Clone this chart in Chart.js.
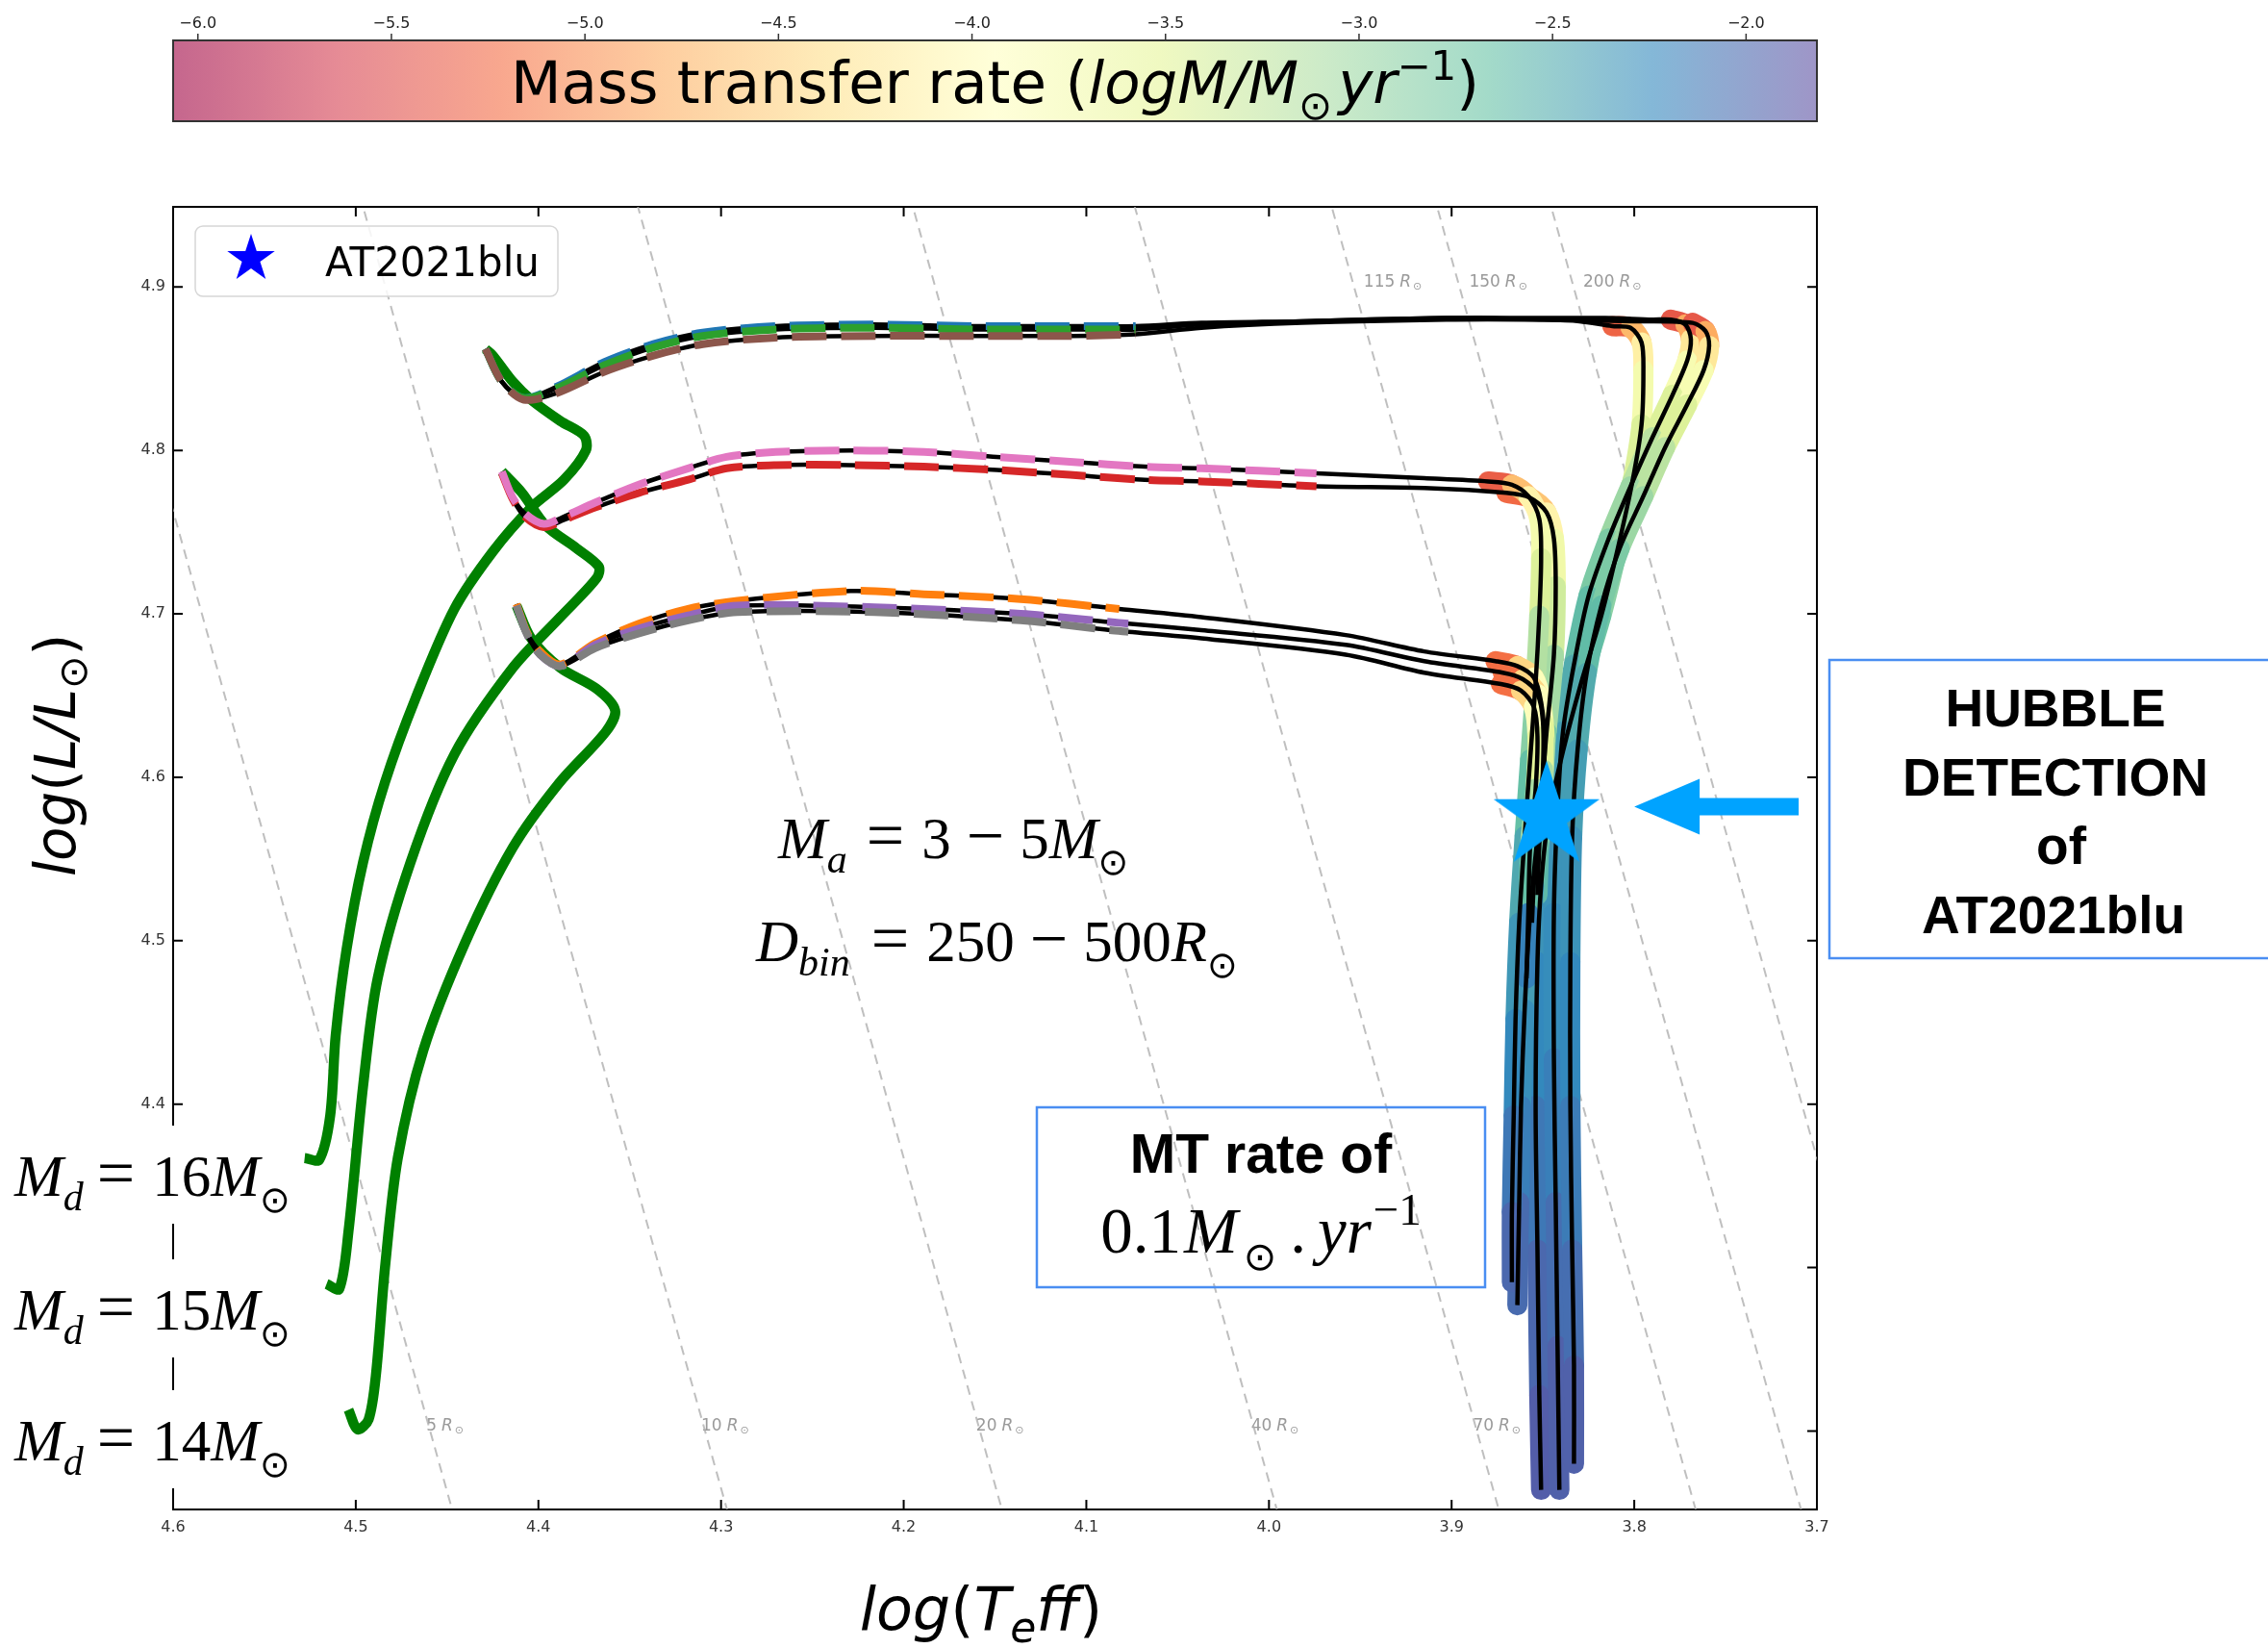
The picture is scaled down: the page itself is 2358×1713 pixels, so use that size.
<!DOCTYPE html>
<html lang="en">
<head>
<meta charset="UTF-8">
<title>HR diagram - AT2021blu mass transfer tracks</title>
<script src="https://cdn.jsdelivr.net/npm/chart.js"></script>
<style>
  html, body { margin: 0; padding: 0; background: #fff; }
  #hrd { display: block; }
</style>
</head>
<body>
<canvas id="hrd" width="2358" height="1713"></canvas>
<script>
// ---- axes ----
const xTicks = [4.6, 4.5, 4.4, 4.3, 4.2, 4.1, 4.0, 3.9, 3.8, 3.7];
const yTicks = [4.2, 4.3, 4.4, 4.5, 4.6, 4.7, 4.8, 4.9];
const cbTicks = [-6.0, -5.5, -5.0, -4.5, -4.0, -3.5, -3.0, -2.5, -2.0];
const cbRange = [-6.064, -1.817];
const spectral = ['#9e0142', '#d53e4f', '#f46d43', '#fdae61', '#fee08b', '#ffffbf',
                  '#e6f598', '#abdda4', '#66c2a5', '#3288bd', '#5e4fa2'];

// ---- constant radius lines (R in Rsun) ----
const radiusVals = [5, 10, 20, 40, 70, 115, 150, 200];
const radiusLabelL = [4.2, 4.2, 4.2, 4.2, 4.2, 4.9, 4.9, 4.9];
const radC = 15.035;

// ---- donor single-star tracks (green) ----
const ms16T = [4.528, 4.520, 4.514, 4.511, 4.505, 4.496, 4.484, 4.467, 4.446, 4.425, 4.404, 4.386, 4.374, 4.375, 4.388, 4.404, 4.414, 4.425, 4.429];
const ms16L = [4.367, 4.366, 4.393, 4.442, 4.495, 4.548, 4.597, 4.649, 4.703, 4.738, 4.765, 4.782, 4.800, 4.809, 4.818, 4.831, 4.842, 4.858, 4.862];
const ms15T = [4.516, 4.509, 4.504, 4.496, 4.488, 4.470, 4.446, 4.414, 4.388, 4.368, 4.367, 4.379, 4.396, 4.409, 4.420];
const ms15L = [4.290, 4.287, 4.322, 4.411, 4.477, 4.548, 4.614, 4.667, 4.698, 4.722, 4.729, 4.740, 4.754, 4.774, 4.787];
const ms14T = [4.504, 4.499, 4.493, 4.489, 4.484, 4.477, 4.463, 4.440, 4.414, 4.389, 4.363, 4.358, 4.368, 4.388, 4.404, 4.412];
const ms14L = [4.213, 4.201, 4.207, 4.234, 4.300, 4.367, 4.433, 4.499, 4.557, 4.596, 4.628, 4.641, 4.654, 4.667, 4.685, 4.705];

// ---- binary tracks: before mass transfer ----
const topBlueT  = [4.429, 4.420, 4.408, 4.390, 4.364, 4.337, 4.310, 4.270, 4.216, 4.162, 4.109, 4.073, 4.037, 3.982, 3.903, 3.852, 3.830, 3.812];
const topBlueL  = [4.862, 4.842, 4.832, 4.839, 4.854, 4.865, 4.872, 4.876, 4.877, 4.876, 4.876, 4.876, 4.878, 4.879, 4.881, 4.880, 4.879, 4.876];
const topGreenT = [4.429, 4.420, 4.408, 4.390, 4.364, 4.337, 4.310, 4.270, 4.216, 4.162, 4.109, 4.073, 4.037, 3.982, 3.903, 3.852, 3.816, 3.790, 3.780];
const topGreenL = [4.862, 4.842, 4.832, 4.838, 4.852, 4.863, 4.870, 4.874, 4.875, 4.874, 4.874, 4.874, 4.877, 4.879, 4.881, 4.881, 4.881, 4.880, 4.880];
const topBrownT = [4.429, 4.420, 4.408, 4.390, 4.364, 4.337, 4.310, 4.270, 4.216, 4.162, 4.109, 4.073, 4.037, 3.982, 3.903, 3.852, 3.800, 3.768];
const topBrownL = [4.862, 4.842, 4.831, 4.835, 4.848, 4.858, 4.865, 4.869, 4.870, 4.870, 4.870, 4.871, 4.875, 4.878, 4.880, 4.880, 4.879, 4.878];
const midPinkT  = [4.420, 4.414, 4.407, 4.397, 4.387, 4.369, 4.345, 4.318, 4.297, 4.270, 4.229, 4.189, 4.149, 4.109, 4.068, 4.037, 3.974, 3.915, 3.880];
const midPinkL  = [4.787, 4.771, 4.761, 4.755, 4.759, 4.768, 4.779, 4.789, 4.796, 4.799, 4.800, 4.799, 4.796, 4.793, 4.790, 4.789, 4.786, 4.783, 4.781];
const midRedT   = [4.420, 4.414, 4.407, 4.397, 4.387, 4.369, 4.345, 4.318, 4.297, 4.270, 4.229, 4.189, 4.149, 4.109, 4.068, 4.037, 3.974, 3.915, 3.870];
const midRedL   = [4.786, 4.770, 4.759, 4.753, 4.757, 4.765, 4.774, 4.782, 4.789, 4.791, 4.791, 4.790, 4.788, 4.785, 4.782, 4.781, 4.778, 4.777, 4.774];
const lowOrangeT = [4.412, 4.406, 4.399, 4.388, 4.369, 4.345, 4.318, 4.291, 4.229, 4.189, 4.136, 4.082, 4.037, 3.958, 3.915, 3.876];
const lowOrangeL = [4.706, 4.688, 4.677, 4.669, 4.682, 4.694, 4.703, 4.708, 4.714, 4.712, 4.709, 4.703, 4.698, 4.687, 4.677, 4.671];
const lowPurpleT = [4.412, 4.406, 4.399, 4.388, 4.369, 4.345, 4.318, 4.291, 4.216, 4.136, 4.087, 4.077, 4.037, 3.958, 3.915, 3.872];
const lowPurpleL = [4.705, 4.687, 4.675, 4.668, 4.681, 4.691, 4.699, 4.705, 4.704, 4.700, 4.695, 4.694, 4.690, 4.681, 4.671, 4.664];
const lowGrayT  = [4.412, 4.406, 4.399, 4.388, 4.369, 4.345, 4.318, 4.291, 4.216, 4.136, 4.087, 4.077, 4.037, 3.958, 3.915, 3.873];
const lowGrayL  = [4.705, 4.687, 4.675, 4.668, 4.679, 4.688, 4.696, 4.701, 4.701, 4.696, 4.690, 4.689, 4.685, 4.675, 4.664, 4.657];

// ---- binary tracks: mass transfer phase (logT, logL, log Mdot) ----
const topBlueMtT  = [3.812, 3.802, 3.796, 3.795, 3.796, 3.801, 3.809, 3.818, 3.829, 3.839, 3.847, 3.851, 3.853, 3.854, 3.853, 3.852, 3.851];
const topBlueMtL  = [4.876, 4.875, 4.866, 4.849, 4.816, 4.781, 4.740, 4.699, 4.658, 4.616, 4.575, 4.534, 4.487, 4.399, 4.311, 4.222, 4.164];
const topBlueMt   = [-5.6, -5.0, -4.4, -3.9, -3.6, -3.3, -3.0, -2.8, -2.65, -2.5, -2.4, -2.35, -2.3, -2.2, -2.05, -1.95, -1.9];
const topGreenMtT = [3.780, 3.772, 3.769, 3.771, 3.779, 3.790, 3.802, 3.814, 3.825, 3.833, 3.839, 3.842, 3.844, 3.844, 3.843, 3.842, 3.841];
const topGreenMtL = [4.880, 4.877, 4.868, 4.855, 4.834, 4.808, 4.778, 4.746, 4.711, 4.669, 4.628, 4.581, 4.517, 4.428, 4.340, 4.252, 4.164];
const topGreenMt  = [-5.7, -5.1, -4.5, -4.0, -3.6, -3.3, -3.1, -2.9, -2.7, -2.55, -2.45, -2.35, -2.3, -2.25, -2.1, -2.0, -1.9];
const topBrownMtT = [3.768, 3.761, 3.759, 3.762, 3.771, 3.783, 3.795, 3.808, 3.818, 3.826, 3.831, 3.834, 3.835, 3.835, 3.834, 3.833, 3.833];
const topBrownMtL = [4.878, 4.873, 4.864, 4.849, 4.828, 4.802, 4.772, 4.740, 4.705, 4.664, 4.617, 4.564, 4.487, 4.399, 4.311, 4.240, 4.180];
const topBrownMt  = [-5.7, -5.1, -4.5, -4.0, -3.6, -3.3, -3.1, -2.9, -2.7, -2.55, -2.45, -2.35, -2.3, -2.2, -2.1, -2.0, -1.9];
const midPinkMtT  = [3.880, 3.867, 3.858, 3.852, 3.851, 3.852, 3.854, 3.857, 3.860, 3.863, 3.865, 3.866, 3.867, 3.867];
const midPinkMtL  = [4.781, 4.779, 4.772, 4.758, 4.734, 4.699, 4.658, 4.611, 4.564, 4.511, 4.452, 4.393, 4.334, 4.291];
const midPinkMt   = [-5.7, -5.0, -4.3, -3.9, -3.6, -3.3, -3.0, -2.75, -2.55, -2.4, -2.3, -2.2, -2.05, -1.95];
const midRedMtT   = [3.870, 3.857, 3.848, 3.844, 3.843, 3.844, 3.848, 3.852, 3.857, 3.860, 3.862, 3.863, 3.864];
const midRedMtL   = [4.774, 4.771, 4.762, 4.746, 4.717, 4.675, 4.628, 4.575, 4.517, 4.458, 4.399, 4.340, 4.277];
const midRedMt    = [-5.6, -4.9, -4.3, -3.9, -3.5, -3.2, -2.9, -2.65, -2.45, -2.35, -2.25, -2.1, -1.95];
const lowOrangeMtT = [3.876, 3.864, 3.855, 3.851, 3.849, 3.850, 3.852, 3.853];
const lowOrangeMtL = [4.671, 4.668, 4.661, 4.646, 4.622, 4.593, 4.558, 4.528];
const lowOrangeMt  = [-5.6, -4.8, -4.1, -3.7, -3.3, -3.0, -2.7, -2.5];
const lowPurpleMtT = [3.872, 3.861, 3.853, 3.850, 3.850, 3.852, 3.855, 3.856];
const lowPurpleMtL = [4.664, 4.660, 4.651, 4.634, 4.605, 4.569, 4.534, 4.511];
const lowPurpleMt  = [-5.6, -4.8, -4.1, -3.7, -3.3, -2.9, -2.5, -2.1];
const lowGrayMtT  = [3.873, 3.862, 3.855, 3.853, 3.854, 3.857, 3.858, 3.859];
const lowGrayMtL  = [4.657, 4.653, 4.643, 4.625, 4.593, 4.558, 4.517, 4.477];
const lowGrayMt   = [-5.6, -4.8, -4.1, -3.7, -3.3, -2.9, -2.4, -2.0];

// ---- observed object ----
const at2021blu = [3.848, 4.576];
const arrowTip = [3.800, 4.582];
const arrowTail = [3.710, 4.582];

// ---------------------------------------------------------------
const rgbStops = spectral.map(h => { const n = parseInt(h.slice(1), 16); return [n >> 16, (n >> 8) & 255, n & 255]; });
function cmap(v, a) {
  let t = (v - cbRange[0]) / (cbRange[1] - cbRange[0]);
  t = Math.min(1, Math.max(0, t)) * (rgbStops.length - 1);
  const i = Math.min(Math.floor(t), rgbStops.length - 2), fr = t - i;
  const c = rgbStops[i].map((c0, k) => Math.round(c0 + (rgbStops[i + 1][k] - c0) * fr));
  return `rgba(${c[0]},${c[1]},${c[2]},${a})`;
}
const pts = (T, L) => T.map((t, i) => ({ x: t, y: L[i] }));
const radiusT = (R, L) => (L - 2 * Math.log10(R) + radC) / 4;

function starPath(ctx, cx, cy, R) {
  const r = R * 0.381966;
  ctx.beginPath();
  for (let k = 0; k < 10; k++) {
    const rad = k % 2 ? r : R, a = -Math.PI / 2 + k * Math.PI / 5;
    ctx.lineTo(cx + rad * Math.cos(a), cy + rad * Math.sin(a));
  }
  ctx.closePath();
}
const starImg = document.createElement('canvas');
starImg.width = 120; starImg.height = 120;
{ const c = starImg.getContext('2d'); starPath(c, 60, 60, 58); c.fillStyle = '#00a3ff'; c.fill(); }

// text made of runs: [text, font, dy] or a number (gap in px)
function drawRuns(ctx, x, y, parts, align) {
  let w = 0;
  parts.forEach(p => { if (typeof p === 'number') { w += p; } else { ctx.font = p[1]; w += ctx.measureText(p[0]).width; } });
  let cx = align === 'center' ? x - w / 2 : x;
  parts.forEach(p => {
    if (typeof p === 'number') { cx += p; return; }
    ctx.font = p[1];
    ctx.fillText(p[0], cx, y + (p[2] || 0));
    cx += ctx.measureText(p[0]).width;
  });
}

const binaries = [
  { c: '#1f77b4', T: topBlueT, L: topBlueL, mT: topBlueMtT, mL: topBlueMtL, m: topBlueMt, dashEnd: 4.073 },
  { c: '#2ca02c', T: topGreenT, L: topGreenL, mT: topGreenMtT, mL: topGreenMtL, m: topGreenMt, dashEnd: 4.073 },
  { c: '#8c564b', T: topBrownT, L: topBrownL, mT: topBrownMtT, mL: topBrownMtL, m: topBrownMt, dashEnd: 4.073 },
  { c: '#d62728', T: midRedT, L: midRedL, mT: midRedMtT, mL: midRedMtL, m: midRedMt, dashEnd: 3.974 },
  { c: '#e377c2', T: midPinkT, L: midPinkL, mT: midPinkMtT, mL: midPinkMtL, m: midPinkMt, dashEnd: 3.974 },
  { c: '#ff7f0e', T: lowOrangeT, L: lowOrangeL, mT: lowOrangeMtT, mL: lowOrangeMtL, m: lowOrangeMt, dashEnd: 4.077 },
  { c: '#9467bd', T: lowPurpleT, L: lowPurpleL, mT: lowPurpleMtT, mL: lowPurpleMtL, m: lowPurpleMt, dashEnd: 4.077 },
  { c: '#7f7f7f', T: lowGrayT, L: lowGrayL, mT: lowGrayMtT, mL: lowGrayMtL, m: lowGrayMt, dashEnd: 4.077 }
];

const datasets = [];
let seq = 0;
function add(ds, z) { ds.order = -(z * 1000 + seq++); if (ds.showLine === undefined) ds.showLine = true; ds.pointRadius = ds.pointRadius || 0; datasets.push(ds); }

radiusVals.forEach(R => add({
  data: [{ x: 3.6, y: 2 * Math.log10(R) + 4 * 3.6 - radC }, { x: 4.7, y: 2 * Math.log10(R) + 4 * 4.7 - radC }],
  borderColor: 'rgba(175,175,175,0.8)', borderWidth: 2, borderDash: [10, 7], tension: 0
}, 1));

[[ms16T, ms16L], [ms15T, ms15L], [ms14T, ms14L]].forEach(([T, L]) => add({
  data: pts(T, L), borderColor: '#008000', borderWidth: 10.5, tension: 0.3,
  borderCapStyle: 'butt', borderJoinStyle: 'round'
}, 2));

binaries.forEach(b => add({
  data: pts(b.mT, b.mL), borderWidth: 21, tension: 0.3, borderCapStyle: 'round', borderJoinStyle: 'round',
  borderColor: cmap(b.m[0], 1),
  segment: { borderColor: ctx => cmap((b.m[ctx.p0DataIndex] + b.m[ctx.p1DataIndex]) / 2, 1) }
}, 3));

binaries.forEach(b => add({
  data: pts(b.T.concat(b.mT.slice(1)), b.L.concat(b.mL.slice(1))),
  borderColor: '#000', borderWidth: 4.5, tension: 0.3, borderJoinStyle: 'round'
}, 4));

binaries.forEach(b => {
  const keep = b.T.map((t, i) => i).filter(i => b.T[i] >= b.dashEnd - 1e-6);
  add({
    data: keep.map(i => ({ x: b.T[i], y: b.L[i] })),
    borderColor: b.c, borderWidth: 8, borderDash: [36, 15], tension: 0.3
  }, 5);
});

add({ data: [{ x: at2021blu[0], y: at2021blu[1] }], showLine: false, pointStyle: starImg, pointRadius: 30 }, 6);

const tickFont = { family: 'DejaVu Sans', size: 16 };
const decor = {
  id: 'decor',
  beforeDatasetsDraw(chart) {
    const { ctx, scales: { x, y } } = chart;
    ctx.save();
    ctx.fillStyle = '#9a9a9a';
    ctx.textAlign = 'left'; ctx.textBaseline = 'alphabetic';
    radiusVals.forEach((R, i) => {
      const L = radiusLabelL[i];
      const px = x.getPixelForValue(radiusT(R, L)) + (L > 4.5 ? 10 : -4);
      drawRuns(ctx, px, y.getPixelForValue(L), [[String(R), '17px "DejaVu Sans"'], 5,
        ['R', 'italic 17px "DejaVu Sans"'], 2, ['⊙', '11px "DejaVu Sans"', 3]]);
    });
    ctx.restore();
  },
  afterDraw(chart) {
    const { ctx, chartArea: a, scales: { x, y } } = chart;
    ctx.save();
    ctx.textAlign = 'left'; ctx.textBaseline = 'alphabetic';

    // inward ticks on all four sides
    ctx.strokeStyle = '#000'; ctx.lineWidth = 2;
    ctx.beginPath();
    xTicks.forEach(v => {
      const px = x.getPixelForValue(v);
      ctx.moveTo(px, a.bottom); ctx.lineTo(px, a.bottom - 10);
      ctx.moveTo(px, a.top); ctx.lineTo(px, a.top + 10);
    });
    yTicks.forEach(v => {
      const py = y.getPixelForValue(v);
      ctx.moveTo(a.left, py); ctx.lineTo(a.left + 10, py);
      ctx.moveTo(a.right, py); ctx.lineTo(a.right - 10, py);
    });
    ctx.stroke();

    // colour bar
    const cb = { l: a.left, r: a.right, t: 42, b: 126 };
    const g = ctx.createLinearGradient(cb.l, 0, cb.r, 0);
    for (let k = 0; k <= 60; k++) g.addColorStop(k / 60, cmap(cbRange[0] + (cbRange[1] - cbRange[0]) * k / 60, 0.6));
    ctx.fillStyle = g; ctx.fillRect(cb.l, cb.t, cb.r - cb.l, cb.b - cb.t);
    ctx.strokeStyle = '#333'; ctx.lineWidth = 2; ctx.strokeRect(cb.l, cb.t, cb.r - cb.l, cb.b - cb.t);
    ctx.font = '16px "DejaVu Sans"'; ctx.fillStyle = '#222'; ctx.textAlign = 'center';
    ctx.lineWidth = 1.5; ctx.beginPath();
    cbTicks.forEach(v => {
      const px = cb.l + (v - cbRange[0]) / (cbRange[1] - cbRange[0]) * (cb.r - cb.l);
      ctx.moveTo(px, cb.t); ctx.lineTo(px, cb.t - 7);
      ctx.fillText(v.toFixed(1).replace('-', '\u2212'), px, 29);
    });
    ctx.stroke();
    ctx.textAlign = 'left'; ctx.fillStyle = '#000';
    drawRuns(ctx, (cb.l + cb.r) / 2, 107, [['Mass transfer rate (', '61px "DejaVu Sans"'],
      ['logM/M', 'italic 61px "DejaVu Sans"'], ['⊙', '42px "DejaVu Sans"', 17], 6,
      ['yr', 'italic 61px "DejaVu Sans"'], ['\u22121', '42px "DejaVu Sans"', -24], [')', '61px "DejaVu Sans"']], 'center');

    // legend
    ctx.fillStyle = 'rgba(255,255,255,0.85)'; ctx.strokeStyle = '#d6d6d6'; ctx.lineWidth = 1.5;
    ctx.beginPath(); ctx.roundRect(203, 235, 377, 73, 8); ctx.fill(); ctx.stroke();
    starPath(ctx, 261, 269, 26); ctx.fillStyle = '#0000ff'; ctx.fill();
    ctx.fillStyle = '#000'; ctx.font = '42px "DejaVu Sans"'; ctx.fillText('AT2021blu', 338, 287);

    // arrow pointing at the detection
    const tx = x.getPixelForValue(arrowTip[0]), ty = y.getPixelForValue(arrowTip[1]);
    const ex = x.getPixelForValue(arrowTail[0]);
    ctx.fillStyle = '#00a3ff'; ctx.beginPath();
    ctx.moveTo(tx, ty); ctx.lineTo(tx + 68, ty - 29); ctx.lineTo(tx + 68, ty - 9); ctx.lineTo(ex, ty - 9);
    ctx.lineTo(ex, ty + 9); ctx.lineTo(tx + 68, ty + 9); ctx.lineTo(tx + 68, ty + 29); ctx.closePath(); ctx.fill();

    // axis labels
    ctx.fillStyle = '#000';
    drawRuns(ctx, 1020, 1694, [['log', 'italic 62px "DejaVu Sans"'], ['(', '62px "DejaVu Sans"'],
      ['T', 'italic 62px "DejaVu Sans"'], ['e', 'italic 44px "DejaVu Sans"', 13], ['ff', 'italic 62px "DejaVu Sans"'],
      [')', '62px "DejaVu Sans"']], 'center');
    ctx.save(); ctx.translate(78, 785); ctx.rotate(-Math.PI / 2);
    drawRuns(ctx, 0, 0, [['log', 'italic 58px "DejaVu Sans"'], ['(', '58px "DejaVu Sans"'],
      ['L/L', 'italic 58px "DejaVu Sans"'], ['⊙', '41px "DejaVu Sans"', 12], [')', '58px "DejaVu Sans"']], 'center');
    ctx.restore();

    // donor mass labels (white boxes hide the axis behind them)
    const it60 = 'italic 61px "Liberation Serif"', rm60 = '61px "Liberation Serif"', sub41 = 'italic 42px "Liberation Serif"';
    const op = '70px "Liberation Serif"', sun = '38px "DejaVu Sans"';
    [['16', 1243], ['15', 1382], ['14', 1518]].forEach(([m, by]) => {
      ctx.fillStyle = '#fff'; ctx.fillRect(4, by - 73, 304, 102);
      ctx.fillStyle = '#000';
      drawRuns(ctx, 15, by, [['M', it60], ['d', sub41, 15], 14, ['=', op], 18, [m, rm60], ['M', it60], ['⊙', sun, 17]]);
    });

    drawRuns(ctx, 809, 892, [['M', it60], ['a', sub41, 15], 20, ['=', op], 18, ['3', rm60], 16, ['\u2212', op], 16,
      ['5', rm60], ['M', it60], ['⊙', sun, 17]]);
    drawRuns(ctx, 786, 999, [['D', it60], ['bin', sub41, 15], 22, ['=', op], 18, ['250', rm60], 16, ['\u2212', op], 16,
      ['500', rm60], ['R', it60], ['⊙', sun, 17]]);

    // MT rate box
    ctx.strokeStyle = '#4a8ef2'; ctx.lineWidth = 2.5;
    ctx.strokeRect(1078, 1151, 466, 187);
    ctx.textAlign = 'center'; ctx.font = 'bold 57px "Liberation Sans"';
    ctx.fillText('MT rate of', 1311, 1219);
    ctx.textAlign = 'left';
    drawRuns(ctx, 1311, 1302, [['0.1', '67px "Liberation Serif"'], 3, ['M', 'italic 67px "Liberation Serif"'], 6,
      ['⊙', '41px "DejaVu Sans"', 18], 14, ['.', '67px "Liberation Serif"'], 12, ['yr', 'italic 67px "Liberation Serif"'], 2,
      ['\u22121', '47px "Liberation Serif"', -29]], 'center');

    // HUBBLE box
    ctx.strokeRect(1902, 686, 500, 310);
    ctx.textAlign = 'center'; ctx.font = 'bold 55px "Liberation Sans"';
    ctx.fillText('HUBBLE', 2137, 755);
    ctx.fillText('DETECTION', 2137, 827);
    ctx.fillText('of', 2143, 898);
    ctx.fillText('AT2021blu', 2135, 970);
    ctx.restore();
  }
};

new Chart(document.getElementById('hrd'), {
  type: 'scatter',
  data: { datasets },
  options: {
    responsive: false, animation: false, devicePixelRatio: 1, events: [],
    layout: { padding: 0 },
    plugins: { legend: { display: false }, tooltip: { enabled: false } },
    scales: {
      x: {
        type: 'linear', position: 'bottom', reverse: true, min: 3.7, max: 4.6,
        afterBuildTicks: s => { s.ticks = xTicks.map(v => ({ value: v })); },
        afterFit: s => { s.height = 144; },
        grid: { display: false, drawTicks: false },
        border: { display: true, color: '#000', width: 2 },
        ticks: { font: tickFont, color: '#333', padding: 9, autoSkip: false, maxRotation: 0, callback: v => v.toFixed(1) }
      },
      x2: {
        type: 'linear', position: 'top', reverse: true, min: 3.7, max: 4.6,
        afterFit: s => { s.height = 215; },
        grid: { display: false, drawTicks: false },
        border: { display: true, color: '#000', width: 2 },
        ticks: { display: false }
      },
      y: {
        type: 'linear', position: 'left', min: 4.152, max: 4.949,
        afterBuildTicks: s => { s.ticks = yTicks.map(v => ({ value: v })); },
        afterFit: s => { s.width = 180; },
        grid: { display: false, drawTicks: false },
        border: { display: true, color: '#000', width: 2 },
        ticks: { font: tickFont, color: '#333', padding: 8, autoSkip: false, callback: v => v.toFixed(1) }
      },
      y2: {
        type: 'linear', position: 'right', min: 4.152, max: 4.949,
        afterFit: s => { s.width = 469; },
        grid: { display: false, drawTicks: false },
        border: { display: true, color: '#000', width: 2 },
        ticks: { display: false }
      }
    }
  },
  plugins: [decor]
});
</script>
</body>
</html>
